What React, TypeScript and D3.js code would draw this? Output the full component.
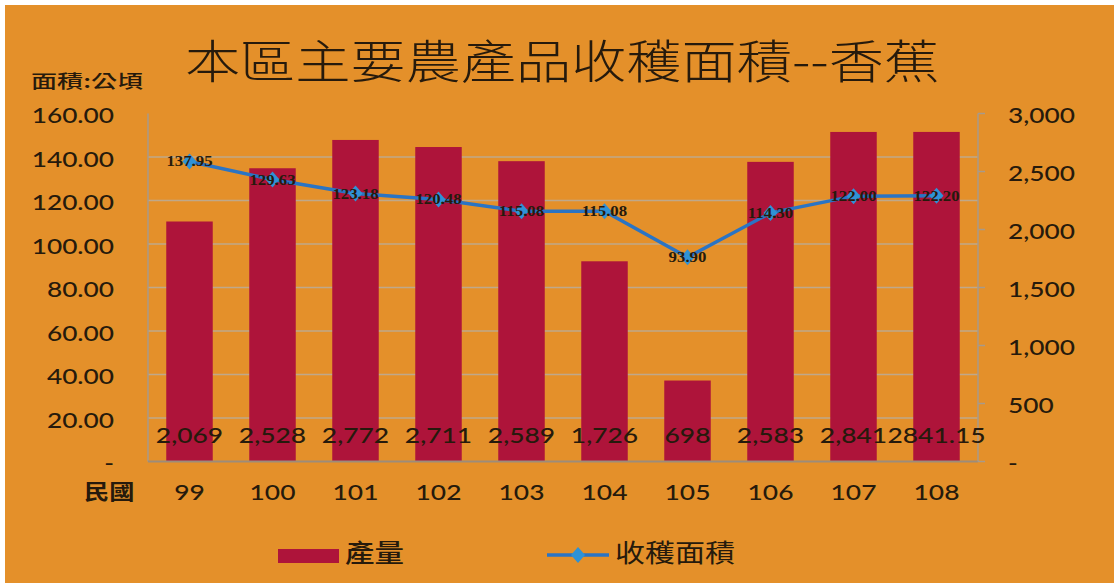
import React from 'react';
import * as d3 from 'd3';

// data
const years = ['99', '100', '101', '102', '103', '104', '105', '106', '107', '108'];
const production = [2069, 2528, 2772, 2711, 2589, 1726, 698, 2583, 2841, 2841.15];
const productionLabels = ['2,069', '2,528', '2,772', '2,711', '2,589', '1,726', '698', '2,583', '2,841', '2841.15'];
const harvestArea = [137.95, 129.63, 123.18, 120.48, 115.08, 115.08, 93.9, 114.3, 122.0, 122.2];
const leftTicks = [0, 20, 40, 60, 80, 100, 120, 140, 160];
const rightTicks = [0, 500, 1000, 1500, 2000, 2500, 3000];

const W = 1114;
const H = 583;
const plot = { left: 148, right: 978, top: 113.5, bottom: 461.5 };

const INK = '#261a0c';
const CJK = '"Noto Sans CJK TC", "Noto Sans CJK SC", sans-serif';
const NUM = 'Lato, "Open Sans", sans-serif';

// text stretched horizontally like the source image
const SText: React.FC<{
  x: number; y: number; sx?: number; anchor?: 'start' | 'middle' | 'end';
  size: number; family?: string; weight?: number | string; children: React.ReactNode;
}> = ({ x, y, sx = 1, anchor = 'start', size, family = NUM, weight = 400, children }) => (
  <text
    transform={`translate(${x},${y}) scale(${sx},1)`}
    textAnchor={anchor}
    fontSize={size}
    fontFamily={family}
    fontWeight={weight}
    fill={INK}
  >
    {children}
  </text>
);

export default function App() {
  const x = d3.scaleBand<string>()
    .domain(years)
    .range([plot.left, plot.right])
    .paddingInner(0.44)
    .paddingOuter(0.22);

  const yLeft = d3.scaleLinear().domain([0, 160]).range([plot.bottom, plot.top]);
  const yRight = d3.scaleLinear().domain([0, 3000]).range([plot.bottom, plot.top]);

  const cx = (d: string) => (x(d) ?? 0) + x.bandwidth() / 2;

  const line = d3.line<number>()
    .x((_, i) => cx(years[i]))
    .y(d => yLeft(d));

  const diamond = (px: number, py: number, r = 7, ry = 8) =>
    `${px},${py - ry} ${px + r},${py} ${px},${py + ry} ${px - r},${py}`;

  return (
    <div style={{ position: 'fixed', left: 0, top: 0 }}>
      <svg width={W} height={H} style={{ display: 'block' }}>
        <rect x={0} y={0} width={W} height={H} fill="#ffffff" />
        <rect x={5} y={5} width={W - 5} height={H - 5} fill="#e4902a" />

        {/* title */}
        <SText x={562} y={78} sx={1.2} anchor="middle" size={46} family={CJK} weight={300}>
          本區主要農產品收穫面積--香蕉
        </SText>
        <SText x={31} y={88} sx={1.45} size={18} family={CJK} weight={500}>
          面積:公頃
        </SText>

        {/* gridlines */}
        {leftTicks.filter(t => t > 0 && t < 160).map(t => (
          <line key={t} x1={plot.left} x2={plot.right} y1={yLeft(t)} y2={yLeft(t)}
            stroke="#bfa88a" strokeWidth={1.5} />
        ))}

        {/* bars */}
        {production.map((v, i) => (
          <rect key={years[i]} x={x(years[i])} y={yRight(v)} width={x.bandwidth()}
            height={plot.bottom - yRight(v)} fill="#ae143a" />
        ))}

        {/* axes */}
        <line x1={plot.left} x2={plot.left} y1={plot.top} y2={plot.bottom} stroke="#a89a8a" strokeWidth={1.5} />
        <line x1={plot.left} x2={plot.right} y1={plot.bottom} y2={plot.bottom} stroke="#9c8c7a" strokeWidth={2} />
        <line x1={plot.right} x2={plot.right} y1={plot.top} y2={plot.bottom} stroke="#a89a8a" strokeWidth={1.5} />
        {rightTicks.map(t => (
          <line key={t} x1={plot.right} x2={plot.right + 7} y1={yRight(t)} y2={yRight(t)}
            stroke="#a89a8a" strokeWidth={1.5} />
        ))}

        {/* bar value labels */}
        {productionLabels.map((s, i) => (
          <SText key={years[i]} x={cx(years[i])} y={443} sx={1.2} anchor="middle" size={22} weight={500}>
            {s}
          </SText>
        ))}

        {/* harvest area line */}
        <path d={line(harvestArea) ?? ''} fill="none" stroke="#2a74c4" strokeWidth={3.5} />
        {harvestArea.map((v, i) => (
          <polygon key={years[i]} points={diamond(cx(years[i]), yLeft(v))} fill="#2f92d6" />
        ))}
        {harvestArea.map((v, i) => (
          <SText key={years[i]} x={cx(years[i])} y={yLeft(v) + 5} sx={1.2} anchor="middle"
            size={14} family='"Liberation Serif", serif' weight={700}>
            {v.toFixed(2)}
          </SText>
        ))}

        {/* left axis labels */}
        {leftTicks.map(t => (
          <SText key={t} x={114} y={yLeft(t) + 9.5} sx={1.25} anchor="end" size={21} weight={500}>
            {t === 0 ? '-' : t.toFixed(2)}
          </SText>
        ))}

        {/* right axis labels */}
        {rightTicks.map(t => (
          <SText key={t} x={1008} y={yRight(t) + 9.5} sx={1.25} size={21} weight={500}>
            {t === 0 ? '-' : d3.format(',')(t)}
          </SText>
        ))}

        {/* category labels */}
        <SText x={84} y={499} sx={1.2} size={21} family={CJK} weight={700}>民國</SText>
        {years.map(yr => (
          <SText key={yr} x={cx(yr)} y={500} sx={1.2} anchor="middle" size={22} weight={500}>
            {yr}
          </SText>
        ))}

        {/* legend */}
        <rect x={278} y={549} width={61} height={14} fill="#ae143a" />
        <SText x={345} y={562} sx={1.18} size={25} family={CJK} weight={500}>產量</SText>
        <line x1={547} x2={609} y1={555} y2={555} stroke="#2a74c4" strokeWidth={3.5} />
        <polygon points={diamond(578, 555)} fill="#2f92d6" />
        <SText x={615} y={562} sx={1.2} size={25} family={CJK}>收穫面積</SText>
      </svg>
    </div>
  );
}
